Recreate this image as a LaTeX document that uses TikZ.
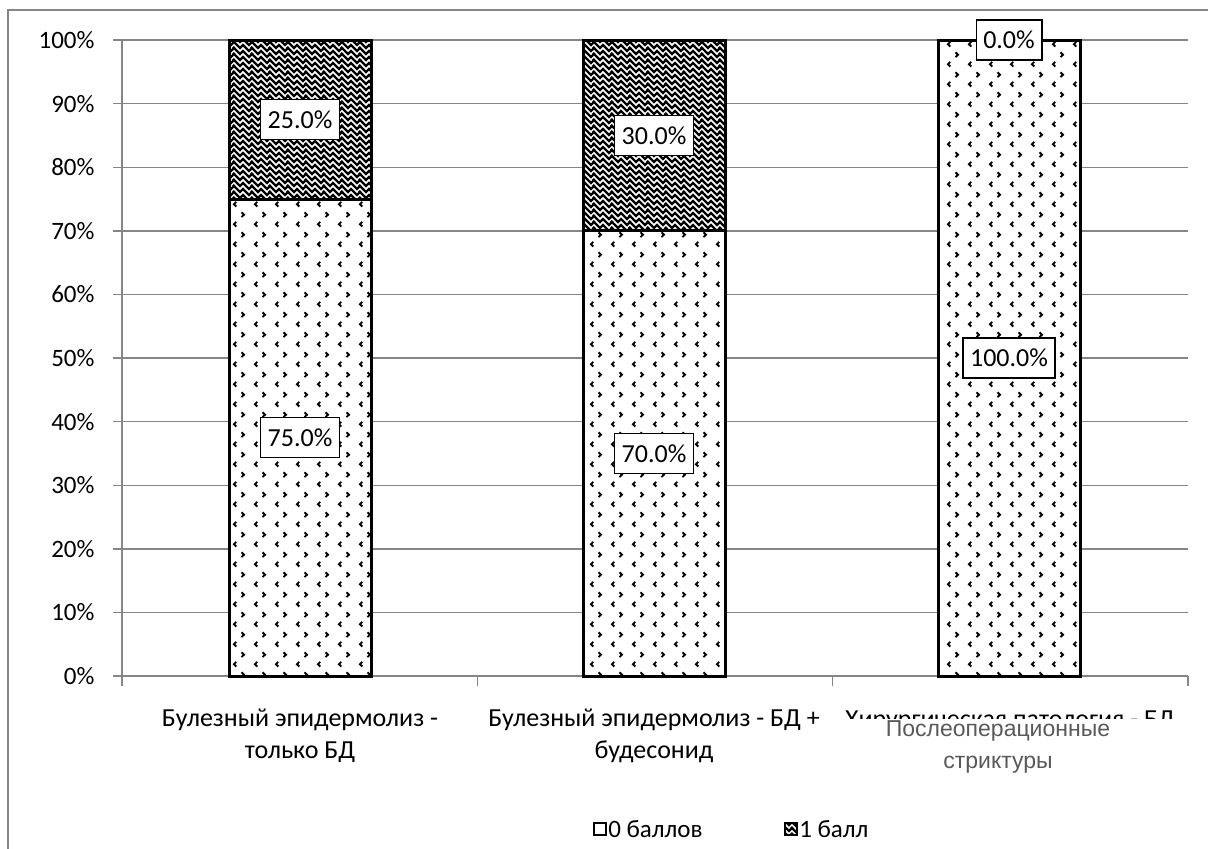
\documentclass[tikz,border=0pt]{standalone}
\usepackage{fontspec}
\setmainfont{Carlito}
\newfontfamily\arialf{Liberation Sans}
\usetikzlibrary{patterns}
\definecolor{gridgray}{HTML}{868686}
\definecolor{notegray}{HTML}{595959}
\pgfdeclarepatternformonly{chevrons}{\pgfqpoint{0pt}{0pt}}{\pgfqpoint{21pt}{20pt}}{\pgfqpoint{21pt}{20pt}}{%
  \pgfsetlinewidth{2pt}%
  \pgfpathmoveto{\pgfqpoint{5.5pt}{7.5pt}}\pgfpathlineto{\pgfqpoint{3pt}{5pt}}\pgfpathlineto{\pgfqpoint{5.5pt}{2.5pt}}%
  \pgfpathmoveto{\pgfqpoint{11pt}{17.5pt}}\pgfpathlineto{\pgfqpoint{13.5pt}{15pt}}\pgfpathlineto{\pgfqpoint{11pt}{12.5pt}}%
  \pgfusepath{stroke}}
\pgfdeclarepatternformonly{weave}{\pgfqpoint{-2pt}{-2pt}}{\pgfqpoint{20pt}{11pt}}{\pgfqpoint{18pt}{6pt}}{%
  \pgfsetlinewidth{2.3pt}%
  \pgfpathmoveto{\pgfqpoint{-1pt}{10pt}}\pgfpathlineto{\pgfqpoint{6pt}{3pt}}\pgfpathlineto{\pgfqpoint{9pt}{6pt}}%
  \pgfpathlineto{\pgfqpoint{15pt}{0pt}}\pgfpathlineto{\pgfqpoint{18pt}{3pt}}\pgfpathlineto{\pgfqpoint{19pt}{2pt}}%
  \pgfusepath{stroke}}
\begin{document}
\begin{tikzpicture}[x=1pt,y=-1pt,
  gridline/.style={draw=gridgray,line width=1.4pt},
  barlow/.style={draw=black,line width=3pt,preaction={fill=white},pattern=chevrons},
  barhigh/.style={draw=black,line width=3pt,preaction={fill=white},pattern=weave},
  dlabel/.style={draw=black,fill=white,line width=1.5pt,font=\fontsize{26}{30}\selectfont,inner xsep=7pt,minimum height=40pt},
  ticklab/.style={anchor=east,font=\fontsize{25}{29}\selectfont},
  catlab/.style={align=center,font=\fontsize{26}{32}\selectfont},
  notelab/.style={align=center,text=notegray,font=\arialf\fontsize{23}{32}\selectfont},
  legbox/.style={draw=black,line width=2.2pt,minimum size=12pt,inner sep=0pt},
  legtext/.style={anchor=west,font=\fontsize{25}{29}\selectfont,inner sep=1pt}
]
\useasboundingbox (0,0) rectangle (1208,849);
% outer frame
\draw[draw=gridgray,line width=2pt] (1208,10) -- (7.5,10) -- (7.5,849);
% grid lines and tick labels
\foreach \i in {0,...,10}{
  \draw[gridline] (113,{676-63.6*\i}) -- (1188,{676-63.6*\i});
}
\foreach \i in {1,...,10}{
  \node[ticklab] (tick\i) at (98,{676-63.6*\i}) {\i0\%};
}
\node[ticklab] (tick0) at (98,676) {0\%};
\draw[gridline] (122,40) -- (122,676);
\foreach \x in {122,477.3,832.7,1188}{
  \draw[gridline] (\x,676) -- (\x,686);
}
% bars
\draw[barlow] (229,676) rectangle (371,199);
\draw[barhigh] (229,199) rectangle (371,40);
\draw[barlow] (583,676) rectangle (725,230.8);
\draw[barhigh] (583,230.8) rectangle (725,40);
\draw[barlow] (938,676) rectangle (1080,40);
% data labels
\node[dlabel] (v1a) at (300,437.5) {75.0\%};
\node[dlabel] (v1b) at (300,119.5) {25.0\%};
\node[dlabel] (v2a) at (654,453.4) {70.0\%};
\node[dlabel] (v2b) at (654,135.4) {30.0\%};
\node[dlabel] (v3a) at (1009,358) {100.0\%};
\node[dlabel] (v3b) at (1009,40) {0.0\%};
% category labels
\node[catlab] (cat1) at (300,736) {Булезный эпидермолиз -\\только БД};
\node[catlab] (cat2) at (654,736) {Булезный эпидермолиз - БД +\\будесонид};
\node[catlab] (cat3) at (1010,721) {Хирургическая патология - БД};
\fill[white] (840,719) rectangle (1176,790);
\node[notelab] (note3) at (998,747) {Послеоперационные\\стриктуры};
% legend
\node[legbox,fill=white] (leg0) at (600,829) {};
\node[legtext] (leg0t) at (leg0.east) {0 баллов};
\node[legbox,preaction={fill=white},pattern=weave] (leg1) at (791,829) {};
\node[legtext] (leg1t) at (leg1.east) {1 балл};
\end{tikzpicture}
\end{document}
